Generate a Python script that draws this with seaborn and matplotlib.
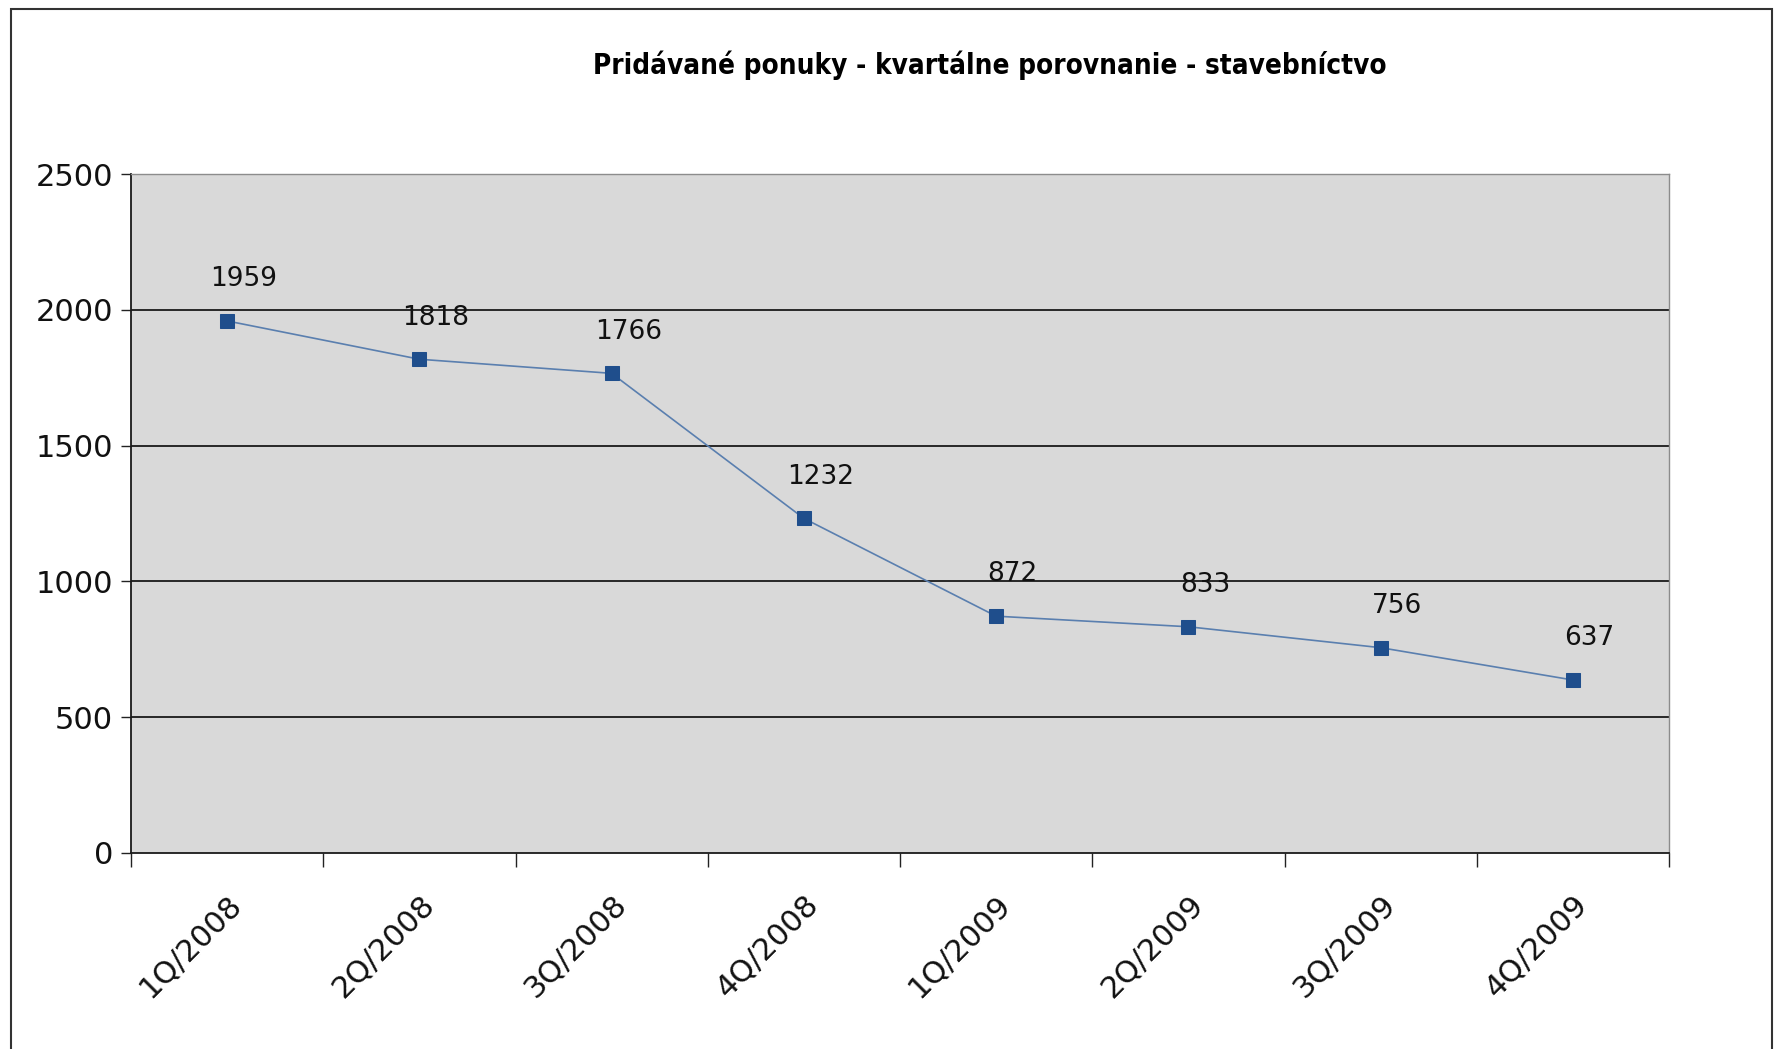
import matplotlib
matplotlib.use("Agg")
import matplotlib.pyplot as plt
from matplotlib.patches import Rectangle
from matplotlib.ticker import FixedLocator, NullFormatter
import seaborn as sns
import pandas as pd

quarters = ["1Q/2008", "2Q/2008", "3Q/2008", "4Q/2008",
            "1Q/2009", "2Q/2009", "3Q/2009", "4Q/2009"]
offers = [1959, 1818, 1766, 1232, 872, 833, 756, 637]
y_ticks = [0, 500, 1000, 1500, 2000, 2500]
title = "Pridávané ponuky - kvartálne porovnanie - stavebníctvo"

df = pd.DataFrame({"quarter": quarters, "offers": offers})

sns.set_style("white")
plt.rcParams["font.family"] = ["DejaVu Sans"]
plt.rcParams["text.color"] = "#111111"
plt.rcParams["xtick.color"] = "#111111"
plt.rcParams["ytick.color"] = "#111111"

fig = plt.figure(figsize=(17.84, 10.49), dpi=100)
ax = fig.add_axes([131 / 1784, 1 - 853 / 1049, (1669 - 131) / 1784, (853 - 174) / 1049])
ax.set_facecolor("#D9D9D9")

sns.lineplot(data=df, x="quarter", y="offers", ax=ax, color="#5A7FAF",
             linewidth=1.2, marker="s", markersize=10,
             markerfacecolor="#1F4E8C", markeredgecolor="#1F4E8C", zorder=3)

# value labels above each point
for i, v in enumerate(offers):
    ax.annotate(str(v), (i, v), xytext=(12, 30), textcoords="offset points",
                ha="center", va="center", fontsize=19, color="#111111")

ax.set_ylim(0, 2500)
ax.set_xlim(-0.5, len(quarters) - 0.5)
ax.set_yticks(y_ticks)
ax.set_yticklabels([str(t) for t in y_ticks], fontsize=22)
for t in y_ticks[1:]:
    ax.axhline(t, color="#1A1A1A", linewidth=1.3, zorder=1)

# category boundaries carry the tick marks, labels sit at the centers
ax.xaxis.set_major_locator(FixedLocator([i - 0.5 for i in range(len(quarters) + 1)]))
ax.xaxis.set_major_formatter(NullFormatter())
ax.xaxis.set_minor_locator(FixedLocator(list(range(len(quarters)))))
ax.set_xticklabels(quarters, minor=True, rotation=45, ha="right",
                   rotation_mode="anchor", fontsize=22)
ax.tick_params(axis="x", which="major", length=10, width=1, color="#222222",
               direction="out", bottom=True)
ax.tick_params(axis="x", which="minor", length=0, pad=26)
ax.tick_params(axis="y", length=7, width=1, color="#222222", direction="out",
               left=True, pad=6)
ax.set_xlabel("")
ax.set_ylabel("")

for side in ["left", "bottom"]:
    ax.spines[side].set_color("#1A1A1A")
    ax.spines[side].set_linewidth(1.3)
for side in ["top", "right"]:
    ax.spines[side].set_color("#8C8C8C")
    ax.spines[side].set_linewidth(1.0)

fig.text(990 / 1784, 1 - 65 / 1049, title, ha="center", va="center",
         fontsize=20, fontweight="bold", fontstretch="condensed",
         color="black", family=["DejaVu Sans"])

# outer chart frame
fig.patches.append(Rectangle((11 / 1784, -0.02), (1772 - 11) / 1784, 1.02 - 9 / 1049,
                             transform=fig.transFigure, fill=False,
                             edgecolor="#333333", linewidth=1.5))

fig.savefig("out.png", dpi=100)
